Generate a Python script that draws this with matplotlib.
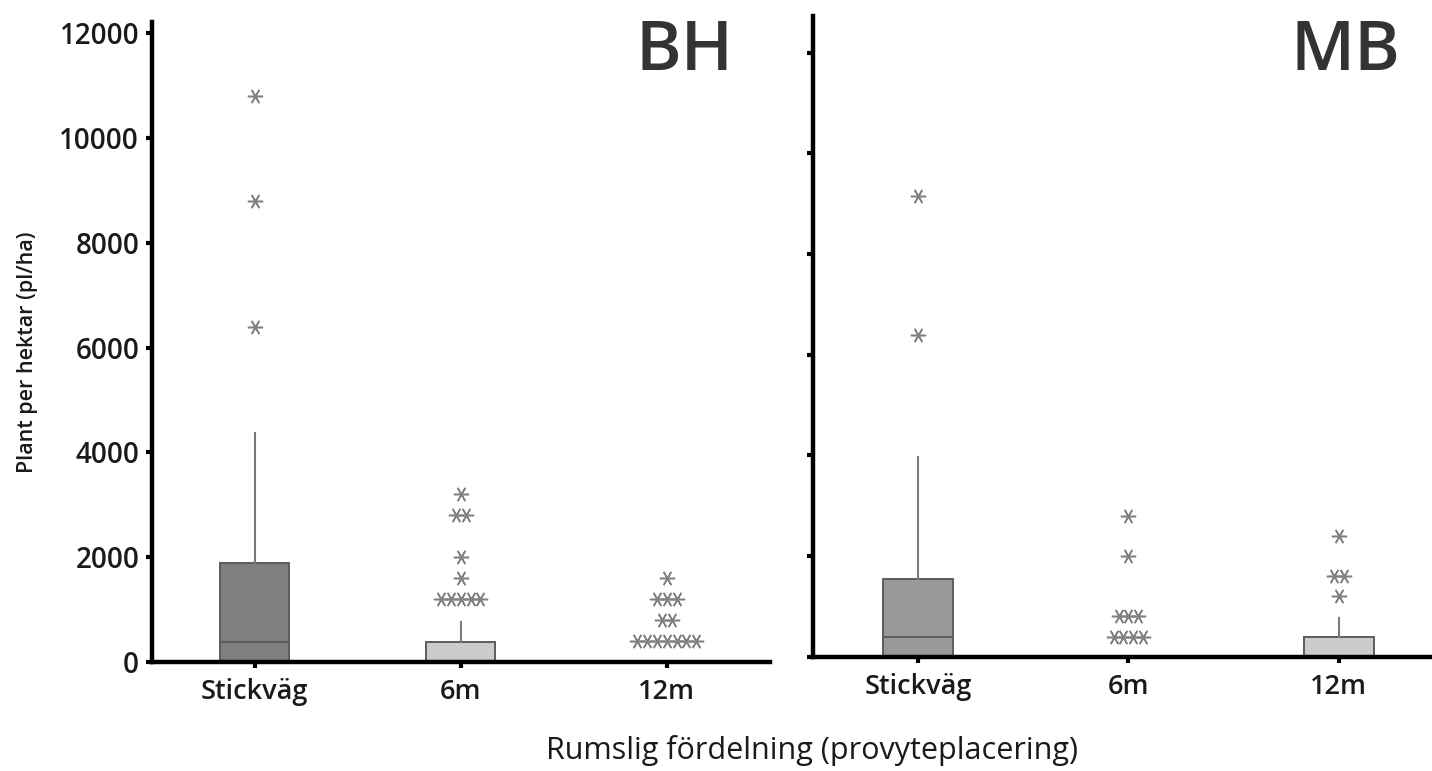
import numpy as np
import matplotlib
matplotlib.use("Agg")
import matplotlib.pyplot as plt

plt.rcParams['font.family'] = ['Open Sans', 'DejaVu Sans']

# ---------------- data ----------------
categories = ["Stickväg", "6m", "12m"]
panels = ["BH", "MB"]

# box statistics per category: q1, median, q3, whisker low, whisker high
bh_q1 = [0, 0, 0]
bh_median = [380, 0, 0]
bh_q3 = [1890, 380, 0]
bh_whislo = [0, 0, 0]
bh_whishi = [4360, 764, 0]

mb_q1 = [0, 0, 0]
mb_median = [390, 0, 0]
mb_q3 = [1545, 0, 397]
mb_whislo = [0, 0, 0]
mb_whishi = [3960, 0, 763]

# extreme values (each entry one observation)
bh_outliers = [
    [6400, 8800, 10800],
    [1200, 1200, 1200, 1200, 1200, 1600, 2000, 2800, 2800, 3200],
    [400, 400, 400, 400, 400, 400, 400, 800, 800, 1200, 1200, 1200, 1600],
]
mb_outliers = [
    [6400, 9160],
    [400, 400, 400, 400, 800, 800, 800, 2000, 2800],
    [1200, 1600, 1600, 2400],
]

bh_colors = ["#7f7f7f", "#cccccc", "#cccccc"]
mb_colors = ["#999999", "#cccccc", "#cccccc"]

yticks = [0, 2000, 4000, 6000, 8000, 10000, 12000]

# ---------------- figure ----------------
fig = plt.figure(figsize=(14.32, 7.71), dpi=100)
ax1 = fig.add_axes([0.1059, 0.1418, 0.4316, 0.8297])
ax2 = fig.add_axes([0.5675, 0.1482, 0.4410, 0.8310])

def draw(ax, q1, med, q3, wlo, whi, outl, colors, ytop, spread):
    stats = []
    for i, c in enumerate(categories):
        stats.append(dict(label=c, q1=q1[i], med=med[i], q3=q3[i],
                          whislo=wlo[i], whishi=whi[i], fliers=[]))
    pos = np.arange(1, len(categories) + 1)
    bp = ax.bxp(stats, positions=pos, widths=0.335, patch_artist=True,
                showcaps=False, showfliers=False,
                boxprops=dict(edgecolor="#5c5c5c", linewidth=1.4),
                medianprops=dict(color="#5c5c5c", linewidth=1.4),
                whiskerprops=dict(color="#7a7a7a", linewidth=1.5))
    for patch, col in zip(bp["boxes"], colors):
        patch.set_facecolor(col)
    # extreme values, identical values spread side by side
    for i, vals in enumerate(outl):
        vals = np.asarray(vals)
        for v in np.unique(vals):
            n = int(np.sum(vals == v))
            offs = (np.arange(n) - (n - 1) / 2.0) * spread
            ax.plot(pos[i] + offs, np.full(n, v), linestyle="none",
                    marker=(6, 2, 30), markersize=11, markeredgewidth=1.1,
                    color="#808080", zorder=4, clip_on=False)
    ax.set_xlim(0.5, 3.5)
    ax.set_ylim(0, ytop)
    ax.set_yticks(yticks)
    ax.set_xticks(pos)
    ax.set_xticklabels(categories, fontsize=19.5, fontweight="semibold", color="#1a1a1a")
    for s in ["top", "right"]:
        ax.spines[s].set_visible(False)
    for s in ["left", "bottom"]:
        ax.spines[s].set_linewidth(3.2)
        ax.spines[s].set_color("black")
    ax.tick_params(axis="both", direction="out", length=4, width=3, color="black")
    ax.tick_params(axis="x", pad=8)
    ax.tick_params(axis="y", pad=5)

draw(ax1, bh_q1, bh_median, bh_q3, bh_whislo, bh_whishi, bh_outliers,
     bh_colors, 12220, 0.048)
ax1.set_yticklabels([str(t) for t in yticks], fontsize=20,
                    fontweight="semibold", color="#1a1a1a")

draw(ax2, mb_q1, mb_median, mb_q3, mb_whislo, mb_whishi, mb_outliers,
     mb_colors, 12727, 0.047)
ax2.set_yticklabels([])

# panel titles
fig.text(733 / 1432, 1 - 44 / 771, panels[0], ha="right", va="center_baseline",
         fontsize=50, fontweight="semibold", color="#333333")
fig.text(1400 / 1432, 1 - 44 / 771, panels[1], ha="right", va="center_baseline",
         fontsize=50, fontweight="semibold", color="#333333")

fig.text(0.0190, 0.543, "Plant per hektar (pl/ha)", rotation=90,
         ha="center", va="center", fontsize=15.5, fontweight="semibold",
         color="#1a1a1a")
fig.text(0.567, 0.027, "Rumslig fördelning (provyteplacering)",
         ha="center", va="center", fontsize=22, color="#1a1a1a")

fig.savefig("out.png", dpi=100)
